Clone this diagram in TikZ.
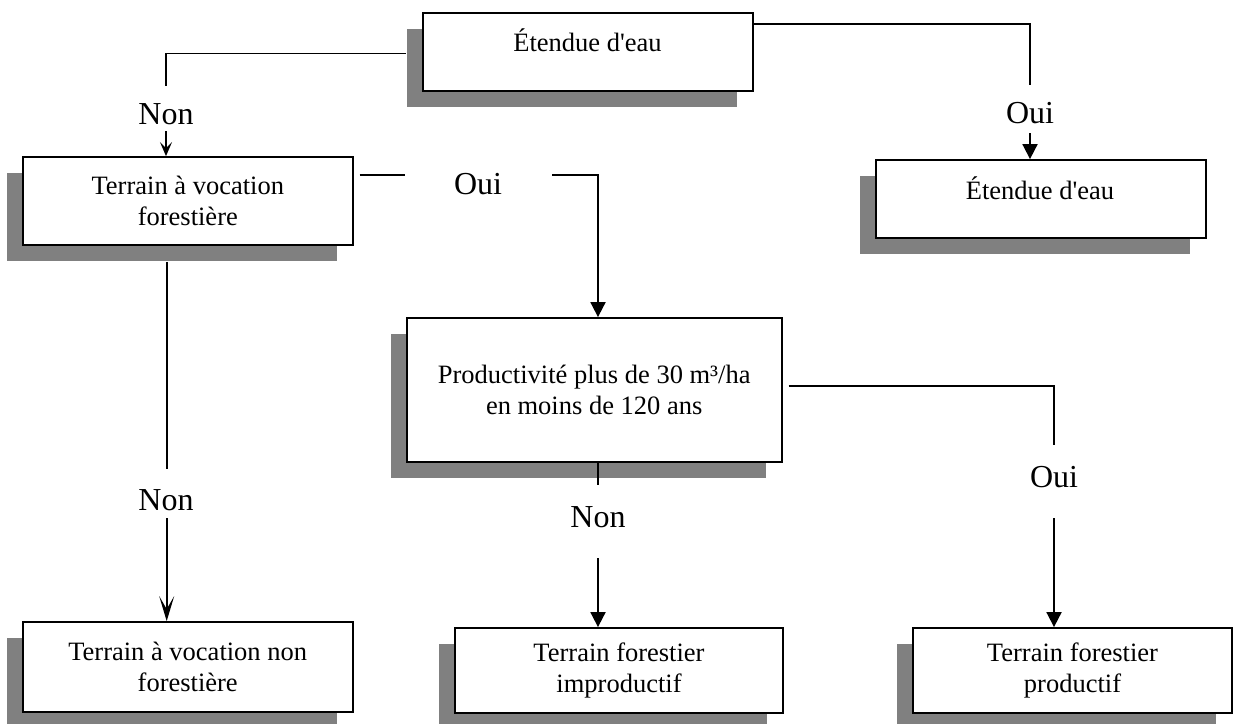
\documentclass[tikz,border=0pt]{standalone}
\usepackage{fontspec}
\setmainfont{Liberation Serif}[Ligatures=TeXOff]
\usetikzlibrary{arrows.meta,shadows,calc}
\definecolor{shadowgray}{HTML}{808080}
\begin{document}
\begin{tikzpicture}[x=1pt,y=-1pt,
  box/.style={draw=black, line width=1.8pt, fill=white, rectangle, inner sep=0pt,
    align=center, font=\fontsize{26.5}{31.5}\selectfont,
    general shadow={fill=shadowgray, shadow xshift=-16pt, shadow yshift=-16pt}},
  boxtext/.style={inner sep=0pt, font=\fontsize{26.5}{31.5}\selectfont},
  lbl/.style={inner sep=0pt, font=\fontsize{32}{36}\selectfont},
  wire/.style={line width=1.8pt},
  fillarrow/.style={wire, -{Triangle[width=15pt,length=15pt]}},
  openarrow/.style={wire, -{Stealth[width=15pt,length=25pt,inset=13pt]}},
  smallarrow/.style={wire, -{Stealth[width=12pt,length=14pt,inset=6pt]}}]
\useasboundingbox (0,0) rectangle (1233,723);
\clip (0,0) rectangle (1233,723);

% decision boxes
\node[box, minimum width=330pt, minimum height=77.7pt] (topb) at (587.7,52.2) {};
\node[boxtext] (toptxt) at (587.5,40) {Étendue d'eau};
\node[box, minimum width=330pt, minimum height=78pt] (eau) at (1041,199) {};
\node[boxtext] (eautxt) at (1040,188) {Étendue d'eau};
\node[box, minimum width=330pt, minimum height=88pt] (voc) at (187.8,201) {Terrain à vocation\\forestière};
\node[box, minimum width=375pt, minimum height=144pt] (prod) at (594.2,390) {Productivité plus de 30 m³/ha\\en moins de 120 ans};
\node[box, minimum width=330pt, minimum height=90pt] (vocnon) at (187.7,667) {Terrain à vocation non\\forestière};
\node[box, minimum width=328pt, minimum height=85pt] (improd) at (619,670.5) {Terrain forestier\\improductif};
\node[box, minimum width=319pt, minimum height=85pt] (prodif) at (1072.5,670.5) {Terrain forestier\\productif};

% branch: water body? no
\coordinate (c1) at (166,86);
\coordinate (c1b) at (166,131);
\node[lbl] (non1) at (166,114) {Non};
\draw[wire] ([xshift=-16pt,yshift=-1.3pt]topb.west) -| (c1);
\draw[smallarrow] (c1b) -- (c1b |- voc.north);

% branch: water body? yes
\coordinate (c2) at (1030,85);
\coordinate (c2b) at (1030,133);
\node[lbl] (oui1) at (1030,113) {Oui};
\draw[wire] ([yshift=27.9pt]topb.east) -| (c2);
\draw[fillarrow] (c2b) -- (c2b |- eau.north);

% branch: forest land? yes
\coordinate (c3) at (405,175);
\coordinate (c3b) at (552,175);
\coordinate (c3c) at (598,175);
\node[lbl] (oui2) at (478,184) {Oui};
\draw[wire] ([xshift=6pt,yshift=26pt]voc.east) -- (c3);
\draw[fillarrow] (c3b) -- (c3c) -- (c3c |- prod.north);

% branch: forest land? no
\coordinate (c4) at (166.7,469);
\coordinate (c4b) at (166.7,518);
\node[lbl] (non2) at (166,500) {Non};
\draw[wire] ($(c4 |- voc.south)+(0,16)$) -- (c4);
\draw[openarrow] (c4b) -- (c4b |- vocnon.north);

% branch: productive? no
\coordinate (c5) at (598,485);
\coordinate (c5b) at (598,558);
\node[lbl] (non3) at (598,517) {Non};
\draw[wire] (c5 |- prod.south) -- (c5);
\draw[fillarrow] (c5b) -- (c5b |- improd.north);

% branch: productive? yes
\coordinate (c6) at (1054,445);
\coordinate (c6b) at (1054,518);
\node[lbl] (oui3) at (1054,477) {Oui};
\draw[wire] ([xshift=6pt,yshift=4pt]prod.east) -| (c6);
\draw[fillarrow] (c6b) -- (c6b |- prodif.north);
\end{tikzpicture}
\end{document}
